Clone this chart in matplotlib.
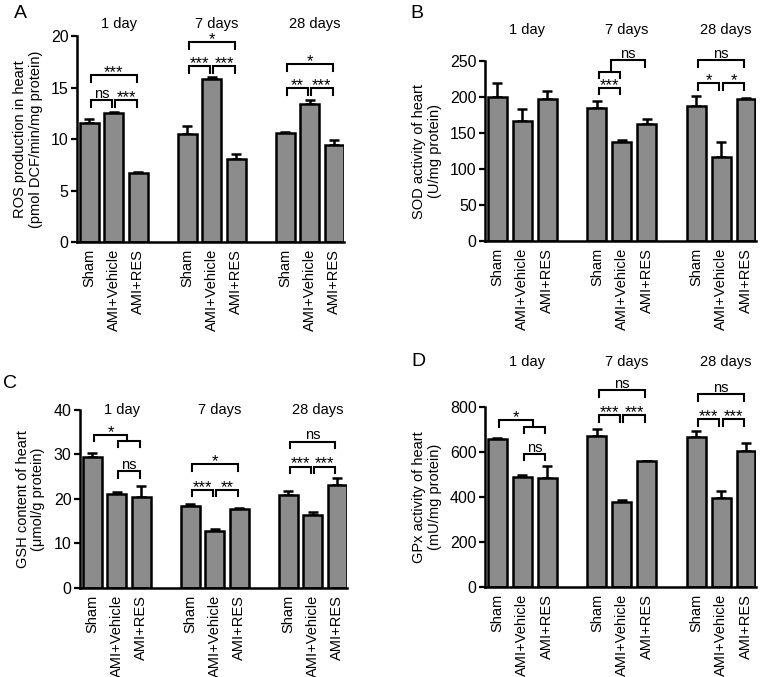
import matplotlib
matplotlib.use("Agg")
import matplotlib.pyplot as plt
import matplotlib.transforms as mtransforms

plt.rcParams["font.family"] = ["Liberation Sans", "DejaVu Sans"]

groups = ["1 day", "7 days", "28 days"]
treatments = ["Sham", "AMI+Vehicle", "AMI+RES"]
x_pos = [0, 1, 2, 4, 5, 6, 8, 9, 10]

ros_mean = [11.6, 12.5, 6.7, 10.5, 15.8, 8.1, 10.6, 13.4, 9.4]
ros_err = [0.35, 0.1, 0.05, 0.75, 0.2, 0.45, 0.1, 0.4, 0.5]
sod_mean = [200, 166, 197, 185, 137, 163, 188, 117, 197]
sod_err = [19, 18, 12, 10, 3, 7, 13, 20, 2]
gsh_mean = [29.5, 21.2, 20.4, 18.5, 12.9, 17.7, 20.9, 16.4, 23.2]
gsh_err = [0.8, 0.4, 2.6, 0.3, 0.4, 0.2, 0.9, 0.7, 1.5]
gpx_mean = [657, 488, 485, 670, 380, 558, 665, 395, 603]
gpx_err = [5, 8, 55, 32, 6, 3, 28, 32, 36]

# brackets: (x1, x2, y, label, left end y, right end y) - None means normal tick
ros_sig = [(0, 2, 16.2, "***", None, None), (0, 1, 13.8, "ns", None, None),
           (1, 2, 13.8, "***", None, None), (4, 6, 19.45, "*", None, None),
           (4, 5, 17.1, "***", None, None), (5, 6, 17.1, "***", None, None),
           (8, 10, 17.3, "*", None, None), (8, 9, 14.95, "**", None, None),
           (9, 10, 14.95, "***", None, None)]
sod_sig = [(4, 5, 213, "***", None, None), (4, 5, 235, "", None, None),
           (4.5, 6, 251, "ns", 235, None), (8, 10, 251, "ns", None, None),
           (8, 9, 219, "*", None, None), (9, 10, 219, "*", None, None)]
gsh_sig = [(0, 1.5, 34.4, "*", None, 33.1), (1, 2, 33.1, "", None, None),
           (1, 2, 26.2, "ns", None, None), (4, 6, 27.8, "*", None, None),
           (4, 5, 22.05, "***", None, None), (5, 6, 22.05, "**", None, None),
           (8, 10, 32.9, "ns", None, None), (8, 9, 27.3, "***", None, None),
           (9, 10, 27.3, "***", None, None)]
gpx_sig = [(0, 1.5, 741, "*", None, 711), (1, 2, 711, "", None, None),
           (1, 2, 593, "ns", None, None), (4, 6, 874, "ns", None, None),
           (4, 5, 763, "***", None, None), (5, 6, 763, "***", None, None),
           (8, 10, 856, "ns", None, None), (8, 9, 745, "***", None, None),
           (9, 10, 745, "***", None, None)]

panels = [
    ("A", [0.1007, 0.6425, 0.349, 0.3043], ros_mean, ros_err, ros_sig, 20, 5,
     "ROS production in heart\n(pmol DCF/min/mg protein)", 1.06, (20, 14)),
    ("B", [0.634, 0.644, 0.3542, 0.2659], sod_mean, sod_err, sod_sig, 250, 50,
     "SOD activity of heart\n(U/mg protein)", 1.172, (417, 14)),
    ("C", [0.1046, 0.1315, 0.349, 0.2629], gsh_mean, gsh_err, gsh_sig, 40, 10,
     "GSH content of heart\n(\u03bcmol/g protein)", 1.0, (10, 383)),
    ("D", [0.634, 0.1329, 0.3542, 0.2659], gpx_mean, gpx_err, gpx_sig, 800, 200,
     "GPx activity of heart\n(mU/mg protein)", 1.25, (418, 362)),
]

fig = plt.figure(figsize=(7.65, 6.77), dpi=100)
W, H = 765, 677

for letter, rect, mean, err, sig, ymax, ystep, ylabel, title_y, letter_xy in panels:
    ax = fig.add_axes(rect)
    ax.bar(x_pos, mean, width=0.76, color="#8c8c8c", edgecolor="black",
           linewidth=1.8, zorder=2)
    ax.errorbar(x_pos, mean, yerr=[[0] * len(err), err], fmt="none",
                ecolor="black", elinewidth=1.8, capsize=3.8, capthick=1.8, zorder=1)
    ax.set_xlim(-0.5, 10.4)
    ax.set_ylim(0, ymax)
    ax.set_yticks(range(0, ymax + 1, ystep))
    ax.set_xticks(x_pos)
    ax.set_xticklabels(treatments * 3, rotation=90, fontsize=10.5)
    ax.tick_params(axis="x", length=0, pad=5)
    ax.tick_params(axis="y", length=4, width=1.6, labelsize=11.5, pad=2)
    for side in ["top", "right"]:
        ax.spines[side].set_visible(False)
    for side in ["left", "bottom"]:
        ax.spines[side].set_linewidth(1.8)
    ax.set_ylabel(ylabel, fontsize=10.5, labelpad=6, linespacing=1.15)

    tick = 0.035 * ymax
    for x1, x2, y, label, y_left, y_right in sig:
        yl = y - tick if y_left is None else y_left
        yr = y - tick if y_right is None else y_right
        ax.plot([x1 + 0.07, x1 + 0.07, x2 - 0.07, x2 - 0.07], [yl, y, y, yr],
                color="black", linewidth=1.5, clip_on=False, zorder=3,
                solid_joinstyle="miter")
        if label:
            # asterisks sit high in the glyph box, so pull them down a bit
            stars = "*" in label
            ax.annotate(label, xy=((x1 + x2) / 2, y),
                        xytext=(0, -1.5 if stars else 1.5),
                        textcoords="offset points", ha="center", va="baseline",
                        fontsize=12 if stars else 10.5,
                        annotation_clip=False)

    trans = mtransforms.blended_transform_factory(ax.transData, ax.transAxes)
    for i, g in enumerate(groups):
        ax.text(x_pos[3 * i + 1] + 0.2, title_y, g, transform=trans,
                ha="center", va="center", fontsize=10.5)

    fig.text(letter_xy[0] / W, 1 - letter_xy[1] / H, letter, fontsize=14,
             ha="center", va="center")

fig.savefig("out.png", dpi=100)
